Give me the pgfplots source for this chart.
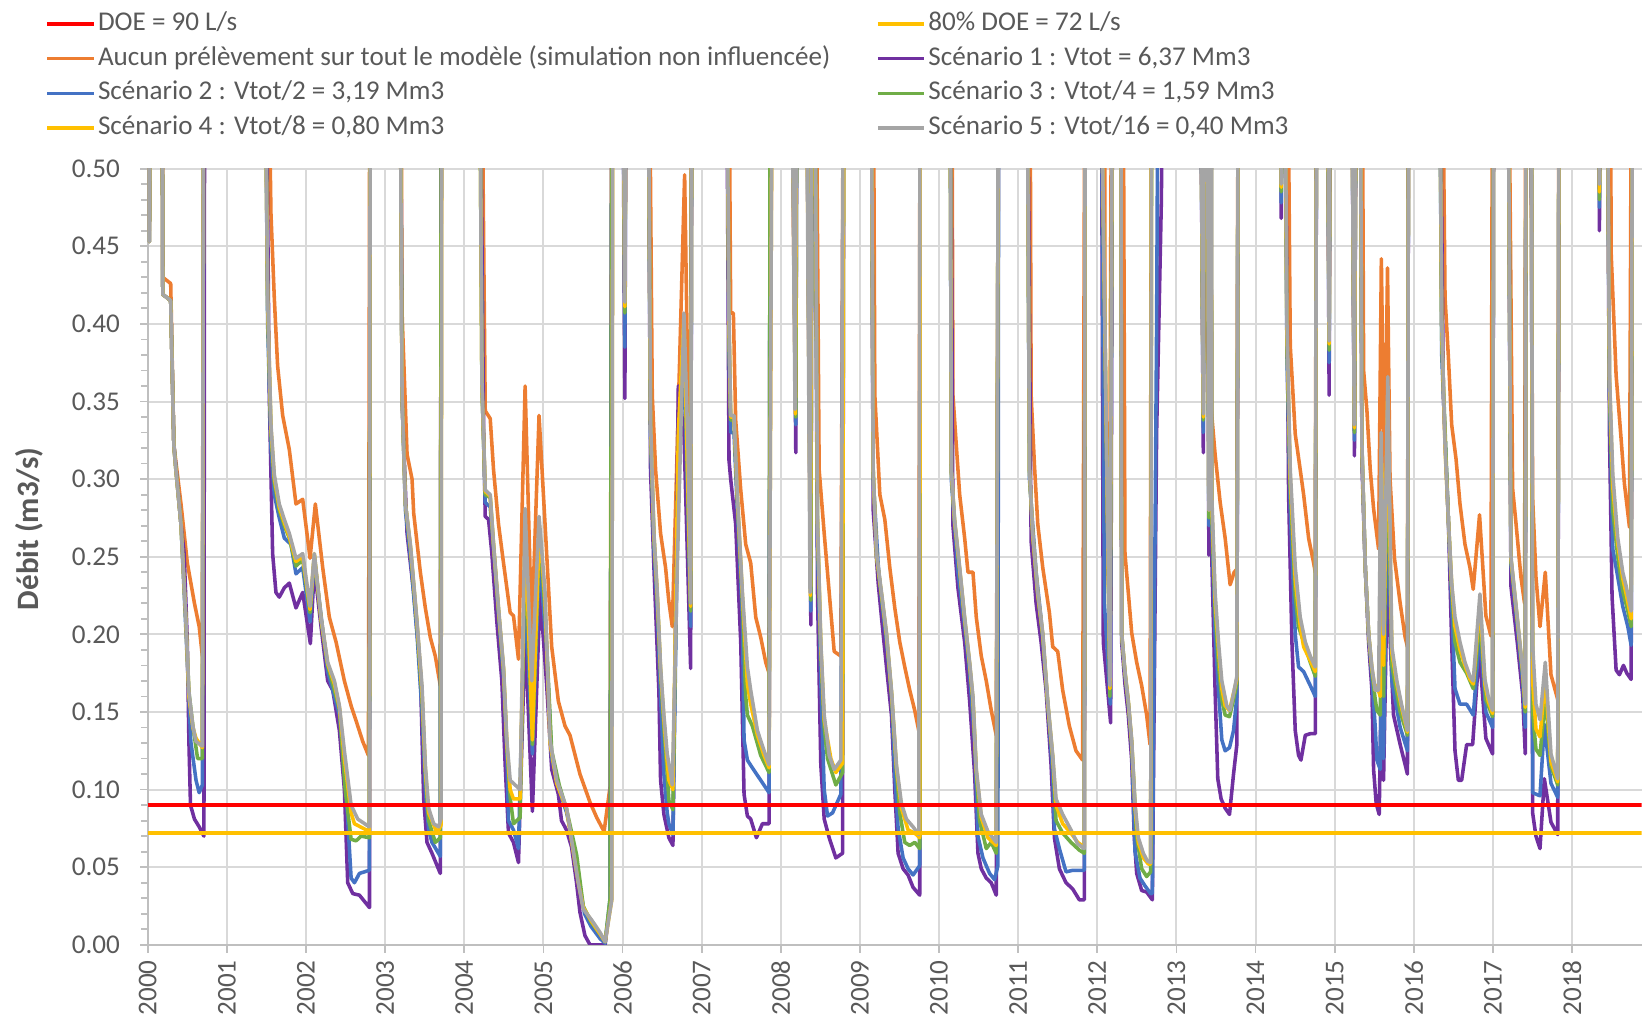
\documentclass[border=0pt]{standalone}
\usepackage{fontspec}
\setmainfont{Carlito}
\usepackage{pgfplots}
\pgfplotsset{compat=1.18}

\definecolor{cDOE}{HTML}{FF0000}
\definecolor{cGold}{HTML}{FFC000}
\definecolor{cOrange}{HTML}{ED7D31}
\definecolor{cPurple}{HTML}{7030A0}
\definecolor{cBlue}{HTML}{4472C4}
\definecolor{cGreen}{HTML}{70AD47}
\definecolor{cGray}{HTML}{A5A5A5}
\definecolor{cText}{HTML}{595959}
\definecolor{cGrid}{HTML}{D9D9D9}
\definecolor{cAxis}{HTML}{BFBFBF}

\begin{document}
\begin{tikzpicture}
\begin{axis}[
  scale only axis,
  width=672.3pt, height=349.3pt,
  xmin=2000, xmax=2018.88,
  ymin=0, ymax=0.5,
  axis lines*=left,
  axis line style={cAxis, line width=0.9pt},
  xtick={2000,2001,...,2018},
  ytick={0,0.05,0.1,0.15,0.2,0.25,0.3,0.35,0.4,0.45,0.5},
  minor y tick num=4,
  grid=major,
  grid style={cGrid, line width=0.9pt},
  tick align=outside,
  major tick length=3.5pt, minor tick length=3pt,
  every tick/.style={cAxis, line width=0.8pt},
  tick label style={font=\fontsize{12.2}{14}\selectfont, text=cText},
  /pgf/number format/assume math mode=true,
  xticklabel style={rotate=90, anchor=east, /pgf/number format/1000 sep={}},
  yticklabel style={xshift=-5.5pt, /pgf/number format/.cd, fixed, fixed zerofill, precision=2},
  ylabel={\bfseries Débit (m3/s)},
  ylabel style={font=\fontsize{14}{16}\selectfont, text=cText, at={(axis description cs:-0.0795,0.536)}, anchor=center},
  every axis plot/.append style={line width=1.6pt, line join=round},
  legend columns=2,
  legend cell align=left,
  legend image code/.code={\draw[#1, line width=1.6pt] (0pt,0pt) -- (21pt,0pt);},
  legend style={draw=none, fill=none, at={(axis description cs:-0.0687,1.207)}, anchor=north west,
    font=\fontsize{12.2}{14}\selectfont, text=cText, inner sep=0pt, row sep=1.6pt,
    nodes={inner sep=1pt, text height=9pt, text depth=3pt},
    /tikz/every even column/.append style={column sep=19.5pt}},
]
\addlegendimage{cDOE}\addlegendentry{DOE = 90 L/s}
\addlegendimage{cGold}\addlegendentry{80\% DOE = 72 L/s}

% Aucun prelevement
\addplot[cOrange] coordinates {
(2000.0,0.62) (2000.02,0.46) (2000.05,0.7) (2000.175,0.7) (2000.19,0.430) (2000.29,0.426) (2000.33,0.322) (2000.42,0.284) (2000.50,0.246) (2000.59,0.220) (2000.65,0.205) (2000.69,0.186) (2000.71,0.7)
(2001.49,0.7) (2001.557,0.471) (2001.599,0.417) (2001.641,0.373) (2001.705,0.341) (2001.789,0.319) (2001.873,0.284) (2001.958,0.287) (2002.051,0.249) (2002.118,0.284) (2002.211,0.243) (2002.295,0.211) (2002.380,0.195) (2002.485,0.170) (2002.570,0.154) (2002.654,0.141) (2002.717,0.131) (2002.789,0.122) (2002.81,0.7)
(2003.19,0.7) (2003.214,0.407) (2003.277,0.316) (2003.340,0.300) (2003.361,0.278) (2003.445,0.240) (2003.508,0.217) (2003.571,0.198) (2003.634,0.186) (2003.697,0.167) (2003.718,0.7)
(2004.20,0.7) (2004.265,0.344) (2004.328,0.339) (2004.370,0.306) (2004.433,0.271) (2004.496,0.246) (2004.580,0.214) (2004.622,0.212) (2004.685,0.184) (2004.769,0.360) (2004.853,0.200) (2004.945,0.341) (2005.021,0.271) (2005.105,0.192) (2005.189,0.157) (2005.273,0.141) (2005.336,0.135) (2005.462,0.110) (2005.588,0.092) (2005.674,0.082) (2005.767,0.073) (2005.843,0.102) (2005.87,0.7)
(2005.99,0.7) (2006.03,0.42) (2006.05,0.7)
(2006.32,0.7) (2006.376,0.354) (2006.418,0.306) (2006.481,0.265) (2006.544,0.243) (2006.586,0.221) (2006.629,0.205) (2006.713,0.360) (2006.785,0.496) (2006.855,0.26) (2006.88,0.7)
(2007.33,0.7) (2007.367,0.407) (2007.401,0.407) (2007.430,0.338) (2007.494,0.293) (2007.557,0.258) (2007.620,0.246) (2007.684,0.211) (2007.747,0.198) (2007.810,0.182) (2007.852,0.175) (2007.90,0.7)
(2008.12,0.7) (2008.165,0.44) (2008.20,0.7) (2008.31,0.7) (2008.37,0.30) (2008.40,0.7)
(2008.43,0.7) (2008.485,0.306) (2008.549,0.265) (2008.612,0.227) (2008.675,0.189) (2008.759,0.186) (2008.80,0.7)
(2009.16,0.7) (2009.189,0.354) (2009.252,0.290) (2009.315,0.274) (2009.378,0.243) (2009.441,0.217) (2009.504,0.195) (2009.567,0.179) (2009.630,0.164) (2009.693,0.151) (2009.744,0.138) (2009.765,0.7)
(2010.155,0.7) (2010.176,0.354) (2010.218,0.322) (2010.261,0.290) (2010.324,0.262) (2010.366,0.240) (2010.429,0.240) (2010.471,0.211) (2010.534,0.186) (2010.597,0.170) (2010.660,0.151) (2010.723,0.135) (2010.765,0.7)
(2011.143,0.7) (2011.164,0.354) (2011.206,0.309) (2011.248,0.271) (2011.311,0.243) (2011.395,0.214) (2011.437,0.192) (2011.500,0.189) (2011.563,0.164) (2011.647,0.141) (2011.731,0.125) (2011.815,0.119) (2011.849,0.7)
(2012.09,0.7) (2012.10,0.27) (2012.152,0.223) (2012.19,0.7)
(2012.32,0.7) (2012.35,0.252) (2012.392,0.227) (2012.435,0.201) (2012.498,0.182) (2012.561,0.167) (2012.624,0.148) (2012.667,0.129) (2012.69,0.7)
(2013.30,0.7) (2013.363,0.40) (2013.384,0.39) (2013.426,0.354) (2013.489,0.316) (2013.553,0.285) (2013.616,0.262) (2013.679,0.232) (2013.730,0.240) (2013.764,0.242) (2013.785,0.7)
(2014.39,0.7) (2014.439,0.386) (2014.502,0.329) (2014.565,0.306) (2014.608,0.290) (2014.671,0.262) (2014.734,0.246) (2014.755,0.240) (2014.776,0.7)
(2014.90,0.7) (2014.93,0.40) (2014.95,0.7) (2015.20,0.7) (2015.25,0.345) (2015.28,0.7)
(2015.34,0.7) (2015.366,0.370) (2015.408,0.344) (2015.450,0.306) (2015.492,0.281) (2015.555,0.255) (2015.590,0.442) (2015.630,0.29) (2015.668,0.436) (2015.700,0.30) (2015.756,0.249) (2015.828,0.220) (2015.891,0.198) (2015.920,0.192) (2015.937,0.7)
(2016.34,0.7) (2016.395,0.417) (2016.437,0.379) (2016.479,0.335) (2016.534,0.313) (2016.584,0.284) (2016.647,0.258) (2016.710,0.243) (2016.751,0.229) (2016.831,0.277) (2016.911,0.212) (2016.975,0.199) (2017.00,0.7)
(2017.18,0.7) (2017.249,0.294) (2017.291,0.272) (2017.354,0.237) (2017.400,0.22) (2017.42,0.7) (2017.47,0.7) (2017.502,0.288) (2017.544,0.237) (2017.595,0.205) (2017.662,0.240) (2017.734,0.174) (2017.819,0.158) (2017.840,0.7)
(2018.48,0.7) (2018.494,0.446) (2018.557,0.367) (2018.620,0.326) (2018.662,0.297) (2018.726,0.269) (2018.76,0.7) (2018.88,0.7)
};
\addlegendentry{Aucun prélèvement sur tout le modèle (simulation non influencée)}

% Scenario 1
\addplot[cPurple] coordinates {
(2000.0,0.62) (2000.02,0.453) (2000.05,0.7) (2000.175,0.7) (2000.19,0.419) (2000.29,0.415) (2000.33,0.322) (2000.42,0.271) (2000.46,0.252) (2000.50,0.195) (2000.52,0.131) (2000.54,0.090) (2000.59,0.081) (2000.65,0.076) (2000.71,0.070) (2000.72,0.7)
(2001.475,0.7) (2001.536,0.354) (2001.578,0.252) (2001.620,0.227) (2001.662,0.224) (2001.726,0.230) (2001.789,0.233) (2001.873,0.217) (2001.958,0.227) (2002.055,0.194) (2002.105,0.243) (2002.190,0.205) (2002.274,0.170) (2002.338,0.164) (2002.422,0.138) (2002.485,0.100) (2002.527,0.040) (2002.591,0.033) (2002.675,0.032) (2002.802,0.024) (2002.814,0.7)
(2003.185,0.7) (2003.214,0.350) (2003.277,0.265) (2003.361,0.227) (2003.445,0.176) (2003.487,0.094) (2003.529,0.066) (2003.592,0.059) (2003.697,0.046) (2003.71,0.7)
(2004.18,0.7) (2004.244,0.335) (2004.265,0.276) (2004.307,0.274) (2004.349,0.252) (2004.412,0.208) (2004.475,0.170) (2004.517,0.116) (2004.559,0.072) (2004.622,0.066) (2004.685,0.053) (2004.769,0.202) (2004.861,0.086) (2004.958,0.227) (2005.042,0.167) (2005.105,0.113) (2005.189,0.097) (2005.229,0.080) (2005.292,0.074) (2005.356,0.063) (2005.419,0.040) (2005.462,0.021) (2005.525,0.006) (2005.589,0.0) (2005.780,0.0) (2005.843,0.027) (2005.87,0.7)
(2005.99,0.7) (2006.03,0.352) (2006.05,0.7)
(2006.31,0.7) (2006.354,0.306) (2006.397,0.243) (2006.460,0.163) (2006.481,0.106) (2006.523,0.084) (2006.586,0.069) (2006.637,0.064) (2006.705,0.360) (2006.776,0.33) (2006.861,0.178) (2006.88,0.7)
(2007.304,0.7) (2007.346,0.312) (2007.367,0.300) (2007.430,0.271) (2007.494,0.195) (2007.536,0.097) (2007.578,0.083) (2007.620,0.081) (2007.692,0.069) (2007.768,0.078) (2007.852,0.078) (2007.87,0.7)
(2008.12,0.7) (2008.19,0.317) (2008.21,0.7) (2008.31,0.7) (2008.38,0.206) (2008.40,0.7)
(2008.42,0.7) (2008.464,0.227) (2008.506,0.116) (2008.549,0.081) (2008.612,0.069) (2008.696,0.056) (2008.781,0.059) (2008.80,0.7)
(2009.134,0.7) (2009.168,0.280) (2009.231,0.233) (2009.273,0.211) (2009.336,0.179) (2009.399,0.148) (2009.441,0.100) (2009.483,0.059) (2009.546,0.049) (2009.609,0.045) (2009.672,0.037) (2009.756,0.032) (2009.765,0.7)
(2010.134,0.7) (2010.176,0.270) (2010.239,0.230) (2010.324,0.195) (2010.387,0.157) (2010.450,0.110) (2010.492,0.059) (2010.534,0.049) (2010.597,0.043) (2010.660,0.040) (2010.723,0.032) (2010.756,0.7)
(2011.101,0.7) (2011.164,0.260) (2011.227,0.220) (2011.290,0.195) (2011.353,0.164) (2011.416,0.116) (2011.458,0.069) (2011.521,0.049) (2011.605,0.040) (2011.689,0.036) (2011.773,0.029) (2011.836,0.029) (2011.849,0.7)
(2012.05,0.62) (2012.076,0.195) (2012.169,0.143) (2012.20,0.7)
(2012.295,0.7) (2012.308,0.195) (2012.350,0.168) (2012.392,0.148) (2012.435,0.119) (2012.468,0.069) (2012.498,0.046) (2012.561,0.035) (2012.624,0.034) (2012.696,0.029) (2012.75,0.33) (2012.81,0.48) (2012.83,0.6)
(2013.29,0.7) (2013.34,0.317) (2013.36,0.7) (2013.385,0.7) (2013.41,0.251) (2013.42,0.7) (2013.435,0.7) (2013.447,0.250) (2013.489,0.164) (2013.523,0.107) (2013.565,0.094) (2013.616,0.088) (2013.671,0.084) (2013.722,0.110) (2013.764,0.129) (2013.785,0.7)
(2014.30,0.7) (2014.325,0.468) (2014.35,0.7)
(2014.354,0.7) (2014.418,0.290) (2014.460,0.195) (2014.502,0.138) (2014.544,0.122) (2014.574,0.119) (2014.629,0.135) (2014.692,0.136) (2014.755,0.136) (2014.776,0.7)
(2014.90,0.7) (2014.93,0.354) (2014.95,0.7) (2015.20,0.7) (2015.25,0.315) (2015.28,0.7)
(2015.315,0.7) (2015.345,0.310) (2015.387,0.243) (2015.429,0.195) (2015.471,0.164) (2015.492,0.113) (2015.525,0.091) (2015.563,0.084) (2015.597,0.195) (2015.618,0.106) (2015.668,0.246) (2015.702,0.195) (2015.744,0.148) (2015.828,0.129) (2015.920,0.110) (2015.937,0.7)
(2016.311,0.7) (2016.374,0.354) (2016.437,0.274) (2016.479,0.195) (2016.521,0.125) (2016.563,0.106) (2016.605,0.106) (2016.668,0.129) (2016.744,0.129) (2016.827,0.190) (2016.911,0.133) (2016.996,0.123) (2017.013,0.7)
(2017.18,0.7) (2017.228,0.231) (2017.312,0.193) (2017.376,0.161) (2017.409,0.123) (2017.42,0.7) (2017.48,0.7) (2017.502,0.085) (2017.544,0.070) (2017.595,0.062) (2017.650,0.107) (2017.734,0.079) (2017.819,0.071) (2017.840,0.7)
(2018.33,0.7) (2018.346,0.460) (2018.37,0.7)
(2018.43,0.7) (2018.473,0.330) (2018.506,0.224) (2018.557,0.177) (2018.599,0.174) (2018.650,0.180) (2018.692,0.175) (2018.747,0.171) (2018.768,0.7) (2018.88,0.7)
};
\addlegendentry{Scénario 1 : Vtot = 6,37 Mm3}

% Scenario 2
\addplot[cBlue] coordinates {
(2000.0,0.62) (2000.02,0.453) (2000.05,0.7) (2000.175,0.7) (2000.19,0.419) (2000.29,0.415) (2000.33,0.322) (2000.42,0.271) (2000.48,0.205) (2000.544,0.131) (2000.61,0.106) (2000.65,0.098) (2000.69,0.103) (2000.71,0.7)
(2001.465,0.7) (2001.515,0.400) (2001.557,0.320) (2001.599,0.290) (2001.662,0.275) (2001.726,0.262) (2001.810,0.258) (2001.873,0.239) (2001.958,0.243) (2002.051,0.208) (2002.105,0.249) (2002.274,0.176) (2002.422,0.148) (2002.505,0.100) (2002.570,0.043) (2002.612,0.040) (2002.675,0.046) (2002.800,0.048) (2002.814,0.7)
(2003.18,0.7) (2003.214,0.354) (2003.256,0.280) (2003.319,0.250) (2003.403,0.200) (2003.466,0.150) (2003.508,0.100) (2003.550,0.074) (2003.592,0.066) (2003.697,0.057) (2003.712,0.7)
(2004.18,0.7) (2004.230,0.350) (2004.265,0.285) (2004.328,0.282) (2004.370,0.255) (2004.433,0.212) (2004.496,0.172) (2004.538,0.125) (2004.559,0.080) (2004.622,0.074) (2004.685,0.062) (2004.769,0.230) (2004.861,0.123) (2004.950,0.250) (2005.042,0.190) (2005.105,0.120) (2005.200,0.100) (2005.294,0.085) (2005.400,0.060) (2005.462,0.037) (2005.520,0.020) (2005.600,0.012) (2005.716,0.004) (2005.780,0.001) (2005.843,0.030) (2005.87,0.7)
(2005.99,0.7) (2006.03,0.385) (2006.05,0.7)
(2006.31,0.7) (2006.354,0.325) (2006.397,0.255) (2006.439,0.215) (2006.481,0.160) (2006.523,0.110) (2006.565,0.085) (2006.586,0.078) (2006.637,0.071) (2006.705,0.300) (2006.776,0.380) (2006.861,0.205) (2006.88,0.7)
(2007.304,0.7) (2007.346,0.380) (2007.367,0.330) (2007.409,0.330) (2007.451,0.280) (2007.515,0.210) (2007.536,0.132) (2007.578,0.119) (2007.641,0.114) (2007.747,0.106) (2007.852,0.098) (2007.87,0.7)
(2008.12,0.7) (2008.19,0.335) (2008.21,0.7) (2008.31,0.7) (2008.38,0.215) (2008.40,0.7)
(2008.42,0.7) (2008.464,0.255) (2008.506,0.170) (2008.549,0.100) (2008.591,0.083) (2008.654,0.085) (2008.759,0.097) (2008.80,0.7)
(2009.134,0.7) (2009.168,0.300) (2009.231,0.245) (2009.273,0.222) (2009.336,0.195) (2009.399,0.160) (2009.441,0.110) (2009.483,0.075) (2009.546,0.056) (2009.609,0.049) (2009.672,0.045) (2009.756,0.051) (2009.765,0.7)
(2010.134,0.7) (2010.155,0.300) (2010.239,0.240) (2010.324,0.205) (2010.387,0.175) (2010.450,0.130) (2010.492,0.070) (2010.555,0.056) (2010.639,0.046) (2010.702,0.042) (2010.744,0.051) (2010.756,0.7)
(2011.101,0.7) (2011.143,0.300) (2011.227,0.240) (2011.290,0.210) (2011.374,0.155) (2011.437,0.110) (2011.458,0.075) (2011.521,0.062) (2011.605,0.047) (2011.689,0.048) (2011.836,0.048) (2011.849,0.7)
(2012.05,0.60) (2012.09,0.220) (2012.165,0.155) (2012.20,0.7)
(2012.295,0.7) (2012.308,0.200) (2012.350,0.174) (2012.392,0.155) (2012.435,0.128) (2012.477,0.060) (2012.540,0.043) (2012.603,0.038) (2012.675,0.033) (2012.696,0.033) (2012.75,0.40) (2012.78,0.7)
(2013.29,0.7) (2013.34,0.330) (2013.36,0.7) (2013.385,0.7) (2013.41,0.270) (2013.42,0.7) (2013.435,0.7) (2013.447,0.270) (2013.489,0.200) (2013.532,0.164) (2013.574,0.132) (2013.616,0.125) (2013.671,0.127) (2013.722,0.138) (2013.764,0.160) (2013.785,0.7)
(2014.30,0.7) (2014.325,0.478) (2014.35,0.7)
(2014.354,0.7) (2014.397,0.380) (2014.439,0.280) (2014.502,0.200) (2014.544,0.179) (2014.608,0.176) (2014.692,0.167) (2014.755,0.160) (2014.776,0.7)
(2014.90,0.7) (2014.93,0.375) (2014.95,0.7) (2015.20,0.7) (2015.25,0.325) (2015.28,0.7)
(2015.315,0.7) (2015.345,0.318) (2015.387,0.243) (2015.429,0.200) (2015.471,0.172) (2015.513,0.140) (2015.534,0.119) (2015.576,0.113) (2015.597,0.240) (2015.618,0.120) (2015.668,0.300) (2015.723,0.170) (2015.828,0.140) (2015.920,0.125) (2015.937,0.7)
(2016.311,0.7) (2016.353,0.380) (2016.437,0.274) (2016.479,0.220) (2016.521,0.165) (2016.584,0.155) (2016.668,0.155) (2016.752,0.148) (2016.836,0.202) (2016.911,0.150) (2016.996,0.140) (2017.013,0.7)
(2017.18,0.7) (2017.228,0.245) (2017.312,0.203) (2017.376,0.170) (2017.409,0.140) (2017.42,0.7) (2017.48,0.7) (2017.502,0.098) (2017.595,0.096) (2017.650,0.142) (2017.734,0.104) (2017.819,0.095) (2017.840,0.7)
(2018.33,0.7) (2018.346,0.475) (2018.37,0.7)
(2018.43,0.7) (2018.473,0.355) (2018.515,0.255) (2018.578,0.237) (2018.641,0.218) (2018.705,0.205) (2018.747,0.193) (2018.768,0.7) (2018.88,0.7)
};
\addlegendentry{Scénario 2 : Vtot/2 = 3,19 Mm3}

% Scenario 3
\addplot[cGreen] coordinates {
(2000.0,0.62) (2000.02,0.453) (2000.05,0.7) (2000.175,0.7) (2000.19,0.419) (2000.29,0.415) (2000.33,0.322) (2000.35,0.309) (2000.42,0.271) (2000.48,0.211) (2000.52,0.163) (2000.57,0.141) (2000.63,0.120) (2000.69,0.120) (2000.71,0.7)
(2001.465,0.7) (2001.515,0.410) (2001.557,0.330) (2001.599,0.298) (2001.662,0.280) (2001.726,0.270) (2001.789,0.262) (2001.873,0.244) (2001.958,0.248) (2002.051,0.214) (2002.105,0.251) (2002.190,0.209) (2002.274,0.180) (2002.422,0.152) (2002.495,0.100) (2002.570,0.068) (2002.633,0.067) (2002.696,0.070) (2002.800,0.069) (2002.814,0.7)
(2003.18,0.7) (2003.214,0.354) (2003.256,0.284) (2003.319,0.256) (2003.403,0.206) (2003.466,0.160) (2003.508,0.110) (2003.550,0.080) (2003.634,0.066) (2003.697,0.069) (2003.712,0.7)
(2004.18,0.7) (2004.223,0.360) (2004.265,0.290) (2004.328,0.288) (2004.370,0.257) (2004.433,0.215) (2004.496,0.177) (2004.538,0.128) (2004.580,0.095) (2004.622,0.078) (2004.706,0.082) (2004.769,0.260) (2004.861,0.129) (2004.950,0.265) (2005.021,0.215) (2005.105,0.125) (2005.200,0.103) (2005.294,0.087) (2005.420,0.058) (2005.504,0.025) (2005.600,0.015) (2005.716,0.007) (2005.780,0.002) (2005.843,0.030) (2005.87,0.7)
(2005.99,0.7) (2006.03,0.407) (2006.05,0.7)
(2006.31,0.7) (2006.354,0.335) (2006.397,0.262) (2006.439,0.224) (2006.481,0.175) (2006.523,0.140) (2006.565,0.110) (2006.586,0.093) (2006.637,0.087) (2006.705,0.320) (2006.776,0.400) (2006.861,0.215) (2006.88,0.7)
(2007.304,0.7) (2007.346,0.395) (2007.367,0.338) (2007.409,0.338) (2007.451,0.287) (2007.515,0.222) (2007.557,0.160) (2007.578,0.148) (2007.641,0.141) (2007.747,0.122) (2007.852,0.111) (2007.87,0.7)
(2008.12,0.7) (2008.19,0.340) (2008.21,0.7) (2008.31,0.7) (2008.38,0.222) (2008.40,0.7)
(2008.42,0.7) (2008.464,0.270) (2008.506,0.190) (2008.549,0.140) (2008.591,0.120) (2008.696,0.103) (2008.781,0.111) (2008.80,0.7)
(2009.134,0.7) (2009.168,0.305) (2009.210,0.250) (2009.273,0.225) (2009.336,0.199) (2009.399,0.162) (2009.462,0.112) (2009.504,0.085) (2009.567,0.066) (2009.630,0.064) (2009.693,0.066) (2009.756,0.062) (2009.765,0.7)
(2010.134,0.7) (2010.155,0.305) (2010.197,0.272) (2010.261,0.241) (2010.324,0.209) (2010.387,0.180) (2010.429,0.157) (2010.471,0.110) (2010.513,0.080) (2010.597,0.062) (2010.660,0.066) (2010.723,0.059) (2010.756,0.7)
(2011.101,0.7) (2011.143,0.305) (2011.185,0.263) (2011.248,0.225) (2011.311,0.199) (2011.374,0.155) (2011.437,0.120) (2011.479,0.080) (2011.563,0.072) (2011.668,0.066) (2011.773,0.061) (2011.836,0.059) (2011.849,0.7)
(2012.055,0.55) (2012.16,0.160) (2012.20,0.7)
(2012.295,0.7) (2012.308,0.200) (2012.350,0.175) (2012.392,0.156) (2012.435,0.130) (2012.498,0.070) (2012.561,0.049) (2012.624,0.044) (2012.675,0.047) (2012.69,0.7)
(2013.29,0.7) (2013.34,0.338) (2013.36,0.7) (2013.385,0.7) (2013.41,0.275) (2013.42,0.7) (2013.435,0.7) (2013.447,0.280) (2013.489,0.215) (2013.532,0.180) (2013.574,0.158) (2013.616,0.148) (2013.671,0.147) (2013.722,0.158) (2013.764,0.168) (2013.785,0.7)
(2014.30,0.7) (2014.325,0.485) (2014.35,0.7)
(2014.354,0.7) (2014.397,0.390) (2014.439,0.295) (2014.502,0.225) (2014.544,0.205) (2014.608,0.195) (2014.692,0.182) (2014.755,0.173) (2014.776,0.7)
(2014.90,0.7) (2014.93,0.383) (2014.95,0.7) (2015.20,0.7) (2015.25,0.330) (2015.28,0.7)
(2015.315,0.7) (2015.345,0.320) (2015.387,0.243) (2015.429,0.200) (2015.471,0.176) (2015.513,0.158) (2015.534,0.151) (2015.576,0.148) (2015.597,0.280) (2015.618,0.160) (2015.668,0.330) (2015.723,0.180) (2015.828,0.150) (2015.920,0.135) (2015.937,0.7)
(2016.311,0.7) (2016.353,0.390) (2016.437,0.274) (2016.479,0.230) (2016.521,0.195) (2016.584,0.182) (2016.668,0.175) (2016.752,0.165) (2016.836,0.210) (2016.911,0.158) (2016.996,0.147) (2017.013,0.7)
(2017.18,0.7) (2017.228,0.248) (2017.312,0.207) (2017.376,0.175) (2017.409,0.150) (2017.42,0.7) (2017.48,0.7) (2017.502,0.150) (2017.544,0.126) (2017.595,0.122) (2017.662,0.160) (2017.734,0.115) (2017.819,0.103) (2017.840,0.7)
(2018.33,0.7) (2018.346,0.480) (2018.37,0.7)
(2018.43,0.7) (2018.473,0.360) (2018.515,0.280) (2018.578,0.250) (2018.641,0.228) (2018.705,0.215) (2018.747,0.205) (2018.768,0.7) (2018.88,0.7)
};
\addlegendentry{Scénario 3 : Vtot/4 = 1,59 Mm3}

% Scenario 4
\addplot[cGold] coordinates {
(2000.0,0.62) (2000.02,0.453) (2000.05,0.7) (2000.175,0.7) (2000.19,0.419) (2000.29,0.415) (2000.33,0.322) (2000.35,0.309) (2000.42,0.271) (2000.48,0.211) (2000.52,0.160) (2000.57,0.140) (2000.61,0.133) (2000.69,0.127) (2000.71,0.7)
(2001.46,0.7) (2001.515,0.415) (2001.557,0.333) (2001.599,0.301) (2001.662,0.282) (2001.726,0.272) (2001.789,0.263) (2001.873,0.247) (2001.958,0.250) (2002.051,0.216) (2002.105,0.252) (2002.190,0.210) (2002.274,0.181) (2002.359,0.168) (2002.422,0.153) (2002.485,0.120) (2002.570,0.085) (2002.612,0.078) (2002.800,0.073) (2002.814,0.7)
(2003.175,0.7) (2003.214,0.354) (2003.256,0.284) (2003.319,0.257) (2003.403,0.207) (2003.466,0.163) (2003.508,0.113) (2003.550,0.085) (2003.592,0.080) (2003.655,0.072) (2003.706,0.077) (2003.72,0.7)
(2004.18,0.7) (2004.223,0.362) (2004.265,0.292) (2004.328,0.289) (2004.370,0.258) (2004.433,0.216) (2004.496,0.178) (2004.538,0.130) (2004.580,0.100) (2004.622,0.094) (2004.706,0.094) (2004.769,0.270) (2004.861,0.132) (2004.950,0.270) (2005.021,0.222) (2005.084,0.130) (2005.168,0.104) (2005.294,0.087) (2005.377,0.060) (2005.441,0.040) (2005.504,0.024) (2005.610,0.015) (2005.716,0.007) (2005.780,0.002) (2005.864,0.029) (2005.88,0.7)
(2005.99,0.7) (2006.03,0.411) (2006.05,0.7)
(2006.31,0.7) (2006.354,0.337) (2006.397,0.264) (2006.439,0.226) (2006.481,0.177) (2006.523,0.145) (2006.565,0.118) (2006.586,0.106) (2006.637,0.100) (2006.705,0.330) (2006.776,0.405) (2006.861,0.218) (2006.88,0.7)
(2007.30,0.7) (2007.346,0.400) (2007.367,0.340) (2007.409,0.340) (2007.451,0.289) (2007.515,0.225) (2007.578,0.168) (2007.620,0.155) (2007.705,0.135) (2007.789,0.122) (2007.852,0.114) (2007.90,0.7)
(2008.12,0.7) (2008.185,0.342) (2008.21,0.7) (2008.31,0.7) (2008.375,0.225) (2008.40,0.7)
(2008.42,0.7) (2008.464,0.272) (2008.506,0.193) (2008.549,0.145) (2008.633,0.120) (2008.696,0.111) (2008.781,0.117) (2008.80,0.7)
(2009.134,0.7) (2009.168,0.306) (2009.210,0.251) (2009.273,0.226) (2009.336,0.200) (2009.399,0.163) (2009.462,0.114) (2009.525,0.088) (2009.609,0.074) (2009.693,0.072) (2009.756,0.069) (2009.765,0.7)
(2010.134,0.7) (2010.155,0.306) (2010.197,0.273) (2010.261,0.242) (2010.324,0.210) (2010.387,0.181) (2010.429,0.158) (2010.471,0.112) (2010.534,0.082) (2010.618,0.069) (2010.723,0.064) (2010.756,0.7)
(2011.101,0.7) (2011.143,0.306) (2011.185,0.264) (2011.248,0.226) (2011.311,0.200) (2011.374,0.156) (2011.437,0.121) (2011.479,0.090) (2011.563,0.078) (2011.668,0.072) (2011.752,0.066) (2011.836,0.063) (2011.849,0.7)
(2012.055,0.55) (2012.16,0.165) (2012.20,0.7)
(2012.295,0.7) (2012.308,0.201) (2012.350,0.176) (2012.392,0.157) (2012.435,0.131) (2012.477,0.088) (2012.519,0.066) (2012.582,0.056) (2012.646,0.052) (2012.675,0.052) (2012.688,0.7)
(2013.29,0.7) (2013.34,0.340) (2013.36,0.7) (2013.385,0.7) (2013.41,0.280) (2013.42,0.7) (2013.435,0.7) (2013.447,0.285) (2013.489,0.222) (2013.532,0.190) (2013.574,0.165) (2013.616,0.154) (2013.671,0.151) (2013.722,0.162) (2013.764,0.171) (2013.785,0.7)
(2014.30,0.7) (2014.325,0.488) (2014.35,0.7)
(2014.354,0.7) (2014.397,0.395) (2014.439,0.300) (2014.502,0.235) (2014.565,0.205) (2014.608,0.192) (2014.692,0.183) (2014.755,0.176) (2014.776,0.7)
(2014.90,0.7) (2014.93,0.387) (2014.95,0.7) (2015.20,0.7) (2015.25,0.333) (2015.28,0.7)
(2015.315,0.7) (2015.345,0.321) (2015.387,0.243) (2015.429,0.201) (2015.471,0.178) (2015.513,0.164) (2015.534,0.167) (2015.576,0.160) (2015.597,0.310) (2015.618,0.180) (2015.668,0.350) (2015.723,0.188) (2015.786,0.168) (2015.849,0.152) (2015.920,0.137) (2015.937,0.7)
(2016.311,0.7) (2016.353,0.400) (2016.395,0.320) (2016.437,0.274) (2016.479,0.232) (2016.521,0.205) (2016.584,0.190) (2016.647,0.180) (2016.710,0.171) (2016.752,0.168) (2016.836,0.220) (2016.899,0.168) (2016.941,0.157) (2016.996,0.149) (2017.013,0.7)
(2017.18,0.7) (2017.228,0.249) (2017.312,0.208) (2017.376,0.176) (2017.409,0.153) (2017.42,0.7) (2017.48,0.7) (2017.502,0.170) (2017.544,0.139) (2017.595,0.134) (2017.662,0.172) (2017.734,0.118) (2017.819,0.105) (2017.840,0.7)
(2018.33,0.7) (2018.346,0.485) (2018.37,0.7)
(2018.43,0.7) (2018.473,0.365) (2018.515,0.295) (2018.578,0.258) (2018.641,0.236) (2018.684,0.226) (2018.747,0.210) (2018.768,0.7) (2018.88,0.7)
};
\addlegendentry{Scénario 4 : Vtot/8 = 0,80 Mm3}

% Scenario 5
\addplot[cGray] coordinates {
(2000.0,0.62) (2000.02,0.453) (2000.05,0.7) (2000.175,0.7) (2000.19,0.419) (2000.29,0.415) (2000.33,0.322) (2000.35,0.309) (2000.42,0.271) (2000.48,0.211) (2000.52,0.163) (2000.57,0.141) (2000.61,0.131) (2000.69,0.128) (2000.71,0.7)
(2001.46,0.7) (2001.515,0.417) (2001.557,0.335) (2001.599,0.303) (2001.662,0.284) (2001.726,0.274) (2001.789,0.265) (2001.873,0.249) (2001.958,0.252) (2002.051,0.218) (2002.105,0.252) (2002.190,0.211) (2002.274,0.182) (2002.359,0.170) (2002.422,0.154) (2002.485,0.125) (2002.570,0.090) (2002.654,0.081) (2002.800,0.076) (2002.814,0.7)
(2003.175,0.7) (2003.214,0.354) (2003.256,0.284) (2003.319,0.258) (2003.403,0.208) (2003.466,0.167) (2003.508,0.116) (2003.550,0.088) (2003.613,0.078) (2003.676,0.076) (2003.706,0.081) (2003.72,0.7)
(2004.18,0.7) (2004.223,0.363) (2004.265,0.293) (2004.328,0.290) (2004.370,0.258) (2004.433,0.217) (2004.496,0.179) (2004.538,0.132) (2004.580,0.106) (2004.643,0.103) (2004.706,0.100) (2004.769,0.281) (2004.853,0.170) (2004.945,0.276) (2005.021,0.227) (2005.084,0.132) (2005.168,0.106) (2005.294,0.088) (2005.377,0.061) (2005.441,0.040) (2005.504,0.023) (2005.610,0.016) (2005.716,0.008) (2005.780,0.002) (2005.864,0.029) (2005.88,0.7)
(2005.99,0.7) (2006.03,0.414) (2006.05,0.7)
(2006.31,0.7) (2006.354,0.338) (2006.397,0.265) (2006.439,0.227) (2006.481,0.179) (2006.523,0.148) (2006.565,0.123) (2006.608,0.110) (2006.629,0.103) (2006.692,0.243) (2006.776,0.407) (2006.827,0.322) (2006.861,0.220) (2006.88,0.7)
(2007.30,0.7) (2007.346,0.402) (2007.367,0.341) (2007.409,0.341) (2007.451,0.290) (2007.515,0.227) (2007.578,0.179) (2007.620,0.164) (2007.705,0.138) (2007.789,0.125) (2007.852,0.116) (2007.90,0.7)
(2008.12,0.7) (2008.18,0.345) (2008.21,0.7) (2008.31,0.7) (2008.37,0.227) (2008.40,0.7)
(2008.42,0.7) (2008.464,0.274) (2008.506,0.195) (2008.549,0.148) (2008.612,0.122) (2008.675,0.113) (2008.759,0.119) (2008.80,0.7)
(2009.134,0.7) (2009.168,0.306) (2009.210,0.252) (2009.273,0.227) (2009.336,0.201) (2009.399,0.164) (2009.462,0.116) (2009.525,0.091) (2009.588,0.081) (2009.672,0.076) (2009.744,0.071) (2009.765,0.7)
(2010.134,0.7) (2010.155,0.306) (2010.197,0.274) (2010.261,0.243) (2010.324,0.211) (2010.387,0.182) (2010.429,0.160) (2010.471,0.113) (2010.534,0.084) (2010.618,0.073) (2010.723,0.066) (2010.756,0.7)
(2011.101,0.7) (2011.143,0.306) (2011.185,0.265) (2011.248,0.227) (2011.311,0.201) (2011.374,0.157) (2011.437,0.122) (2011.479,0.094) (2011.563,0.084) (2011.668,0.074) (2011.752,0.065) (2011.836,0.062) (2011.849,0.7)
(2012.055,0.55) (2012.16,0.167) (2012.20,0.7)
(2012.295,0.7) (2012.308,0.201) (2012.350,0.176) (2012.392,0.157) (2012.435,0.132) (2012.477,0.091) (2012.519,0.069) (2012.582,0.059) (2012.633,0.054) (2012.675,0.053) (2012.688,0.7)
(2013.29,0.7) (2013.34,0.342) (2013.36,0.7) (2013.385,0.7) (2013.41,0.280) (2013.42,0.7) (2013.435,0.7) (2013.447,0.290) (2013.489,0.227) (2013.532,0.195) (2013.574,0.170) (2013.637,0.154) (2013.679,0.151) (2013.730,0.164) (2013.764,0.173) (2013.785,0.7)
(2014.30,0.7) (2014.325,0.490) (2014.35,0.7)
(2014.354,0.7) (2014.397,0.400) (2014.439,0.306) (2014.502,0.243) (2014.565,0.211) (2014.629,0.195) (2014.692,0.186) (2014.755,0.179) (2014.776,0.7)
(2014.90,0.7) (2014.93,0.389) (2014.95,0.7) (2015.20,0.7) (2015.248,0.335) (2015.28,0.7)
(2015.315,0.7) (2015.345,0.322) (2015.387,0.243) (2015.429,0.201) (2015.471,0.179) (2015.513,0.164) (2015.555,0.164) (2015.588,0.330) (2015.618,0.200) (2015.672,0.366) (2015.723,0.192) (2015.786,0.170) (2015.849,0.154) (2015.920,0.138) (2015.937,0.7)
(2016.311,0.7) (2016.353,0.402) (2016.395,0.322) (2016.437,0.274) (2016.479,0.233) (2016.521,0.211) (2016.584,0.195) (2016.647,0.182) (2016.710,0.173) (2016.752,0.170) (2016.836,0.226) (2016.899,0.171) (2016.941,0.160) (2016.996,0.151) (2017.013,0.7)
(2017.18,0.7) (2017.228,0.250) (2017.312,0.209) (2017.376,0.177) (2017.409,0.155) (2017.42,0.7) (2017.48,0.7) (2017.502,0.193) (2017.544,0.155) (2017.595,0.145) (2017.662,0.182) (2017.734,0.123) (2017.819,0.107) (2017.840,0.7)
(2018.33,0.7) (2018.346,0.490) (2018.37,0.7)
(2018.43,0.7) (2018.473,0.367) (2018.515,0.303) (2018.578,0.262) (2018.641,0.240) (2018.684,0.231) (2018.747,0.215) (2018.768,0.7) (2018.88,0.7)
};
\addlegendentry{Scénario 5 : Vtot/16 = 0,40 Mm3}

% seuils
\addplot[cDOE, forget plot] coordinates {(2000,0.09) (2018.88,0.09)};
\addplot[cGold, forget plot] coordinates {(2000,0.072) (2018.88,0.072)};
\end{axis}
\pgfresetboundingbox
\path ([xshift=-66.5pt, yshift=-32.9pt]current axis.south west) rectangle ([xshift=0.6pt, yshift=75.9pt]current axis.north east);
\end{tikzpicture}
\end{document}
